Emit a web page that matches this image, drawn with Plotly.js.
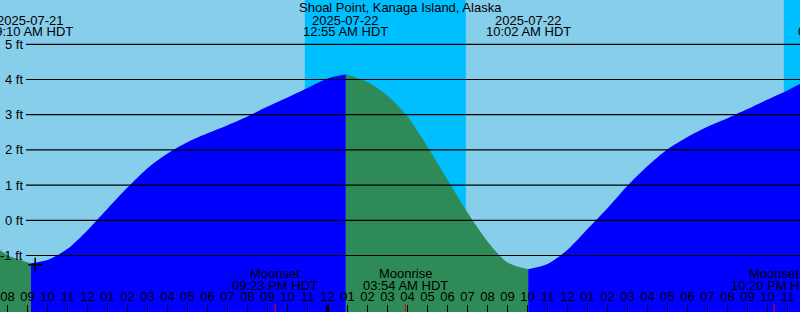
<!DOCTYPE html>
<html>
<head>
<meta charset="utf-8">
<script src="https://cdn.plot.ly/plotly-3.0.1.min.js"></script>
<style>html,body{margin:0;padding:0;background:#87CEEB;}#chart{width:800px;height:312px;}</style>
</head>
<body>
<div id="chart"></div>
<script>
// ---- data ----
var chartTitle = "Shoal Point, Kanaga Island, Alaska";
var tideTimes = [
  "2025-07-21 07:30", "2025-07-21 08:00", "2025-07-21 09:10", "2025-07-21 10:00",
  "2025-07-21 11:00", "2025-07-21 12:00", "2025-07-21 13:00", "2025-07-21 14:00",
  "2025-07-21 15:00", "2025-07-21 16:00", "2025-07-21 17:00", "2025-07-21 18:00",
  "2025-07-21 19:00", "2025-07-21 20:00", "2025-07-21 21:00", "2025-07-21 22:00",
  "2025-07-21 23:00", "2025-07-22 00:00", "2025-07-22 00:55", "2025-07-22 02:00",
  "2025-07-22 03:00", "2025-07-22 04:00", "2025-07-22 05:00", "2025-07-22 06:00",
  "2025-07-22 07:00", "2025-07-22 08:00", "2025-07-22 09:00", "2025-07-22 10:02",
  "2025-07-22 11:00", "2025-07-22 12:00", "2025-07-22 13:00", "2025-07-22 14:00",
  "2025-07-22 15:00", "2025-07-22 16:00", "2025-07-22 17:00", "2025-07-22 18:00",
  "2025-07-22 19:00", "2025-07-22 20:00", "2025-07-22 21:00", "2025-07-22 22:00",
  "2025-07-22 23:00", "2025-07-23 00:00"
];
var tideHeights = [
  -0.80, -0.99, -1.22, -1.13,
  -0.81, -0.28, 0.33, 0.93,
  1.48, 1.90, 2.22, 2.47,
  2.70, 2.95, 3.23, 3.49,
  3.76, 4.03, 4.15, 3.93,
  3.54, 2.95, 2.09, 1.15,
  0.22, -0.60, -1.20, -1.39,
  -1.24, -0.84, -0.25, 0.34,
  0.98, 1.54, 2.02, 2.37,
  2.66, 2.90, 3.16, 3.43,
  3.69, 3.98
];
// extremes (tide turning points)
var extremeTimes = ["2025-07-21 09:10", "2025-07-22 00:55", "2025-07-22 10:02", "2025-07-23 01:40"];
var extremeDates = ["2025-07-21", "2025-07-22", "2025-07-22", "2025-07-23"];
var extremeLabels = ["09:10 AM HDT", "12:55 AM HDT", "10:02 AM HDT", "01:40 AM HDT"];
// night bands (sunset -> sunrise)
var nightStarts = ["2025-07-21 22:52", "2025-07-22 22:49"];
var nightEnds = ["2025-07-22 06:55", "2025-07-23 06:56"];
// moon events
var moonTimes = ["2025-07-21 21:23", "2025-07-22 03:54", "2025-07-22 22:20"];
var moonNames = ["Moonset", "Moonrise", "Moonset"];
var moonLabels = ["09:23 PM HDT", "03:54 AM HDT", "10:20 PM HDT"];
// current time marker
var nowTime = ["2025-07-21 09:23"];
var nowHeight = [-1.26];
var midnightTimes = ["2025-07-22 00:00"];
var yTicks = [-1, 0, 1, 2, 3, 4, 5];
var yTickLabels = ["-1 ft", "0 ft", "1 ft", "2 ft", "3 ft", "4 ft", "5 ft"];

// ---- layout constants ----
var W = 800, H = 312;
var xRange = ["2025-07-21 07:37:30", "2025-07-22 23:37:30"];
var yRange = [-2.605, 6.259];
var FONT = "Liberation Sans, Arial, sans-serif";
var FS = 13;
var SKY = "#87CEEB", NIGHT = "#00BFFF", RISE = "#0000FF", FALL = "#2E8B57";

function ms(s){ return new Date(s.replace(" ", "T") + "Z").getTime(); }
var x0ms = ms(xRange[0]), x1ms = ms(xRange[1]);
function paperX(s){ return (ms(s) - x0ms) / (x1ms - x0ms); }

// split into rising/falling segments at extremes
var traces = [];
var idx = [0];
extremeTimes.forEach(function(t){
  var i = tideTimes.indexOf(t);
  if (i > 0) idx.push(i);
});
idx.push(tideTimes.length - 1);
for (var s = 0; s < idx.length - 1; s++) {
  var a = idx[s], b = idx[s + 1];
  var xs = tideTimes.slice(a, b + 1), ys = tideHeights.slice(a, b + 1);
  var rising = ys[ys.length - 1] > ys[0];
  traces.push({x: xs, y: xs.map(function(){ return yRange[0]; }), mode: "lines",
    line: {width: 0}, hoverinfo: "skip", showlegend: false});
  traces.push({x: xs, y: ys, mode: "lines", fill: "tonexty",
    fillcolor: rising ? RISE : FALL, line: {width: 0, shape: "spline", smoothing: 0.8},
    hoverinfo: "skip", showlegend: false});
}
traces.push({x: nowTime, y: nowHeight, mode: "markers",
  marker: {symbol: "cross-thin", size: 10, line: {width: 1.5, color: "black"}},
  hoverinfo: "skip", showlegend: false});

var shapes = [];
nightStarts.forEach(function(t, i){
  shapes.push({type: "rect", xref: "x", yref: "paper", x0: t, x1: nightEnds[i], y0: 0, y1: 1,
    fillcolor: NIGHT, line: {width: 0}, layer: "below"});
});
yTicks.forEach(function(v){
  shapes.push({type: "line", xref: "paper", yref: "y", x0: 26 / W, x1: 1, y0: v, y1: v,
    line: {color: "black", width: 1.2}});
});
midnightTimes.forEach(function(t){
  shapes.push({type: "line", xref: "x", yref: "paper", x0: t, x1: t, y0: 0, y1: 7 / H,
    line: {color: "black", width: 3}});
});
moonTimes.forEach(function(t){
  shapes.push({type: "line", xref: "x", yref: "paper", x0: t, x1: t, y0: 0, y1: 8 / H,
    line: {color: "red", width: 1}});
});

var ann = [];
function txt(x, xref, y, text, xanchor){
  ann.push({x: x, xref: xref, y: y, yref: "paper", text: text, showarrow: false,
    xanchor: xanchor || "center", yanchor: "middle",
    font: {family: FONT, size: FS, color: "black"}});
}
txt(0.5, "paper", 1 - 7.5 / H, chartTitle);
extremeTimes.forEach(function(t, i){
  var px = paperX(t);
  txt(px, "paper", 1 - 20 / H, extremeDates[i]);
  txt(px, "paper", 1 - 31.7 / H, extremeLabels[i]);
});
moonTimes.forEach(function(t, i){
  var px = paperX(t);
  txt(px, "paper", 1 - 273.3 / H, moonNames[i]);
  txt(px, "paper", 1 - 285.5 / H, moonLabels[i]);
});
yTicks.forEach(function(v, i){
  ann.push({x: 24.5 / W, xref: "paper", y: v, yref: "y", text: yTickLabels[i], showarrow: false,
    xanchor: "right", yanchor: "middle", font: {family: FONT, size: FS, color: "black"}});
});

var layout = {
  width: W, height: H,
  margin: {l: 0, r: 0, t: 0, b: 0, pad: 0},
  paper_bgcolor: SKY, plot_bgcolor: SKY,
  showlegend: false,
  xaxis: {type: "date", range: xRange, dtick: 3600000, tick0: "2025-07-21 00:00",
    tickformat: "%I", ticks: "inside", ticklen: 7, tickwidth: 1, tickcolor: "black",
    ticklabelposition: "inside", ticklabelstandoff: 1,
    tickfont: {family: FONT, size: FS, color: "black"},
    showgrid: false, zeroline: false, showline: false, fixedrange: true},
  yaxis: {range: yRange, showticklabels: false, showgrid: false, zeroline: false,
    ticks: "", showline: false, fixedrange: true},
  shapes: shapes,
  annotations: ann
};
Plotly.newPlot("chart", traces, layout, {staticPlot: true, displayModeBar: false});
</script>
</body>
</html>
